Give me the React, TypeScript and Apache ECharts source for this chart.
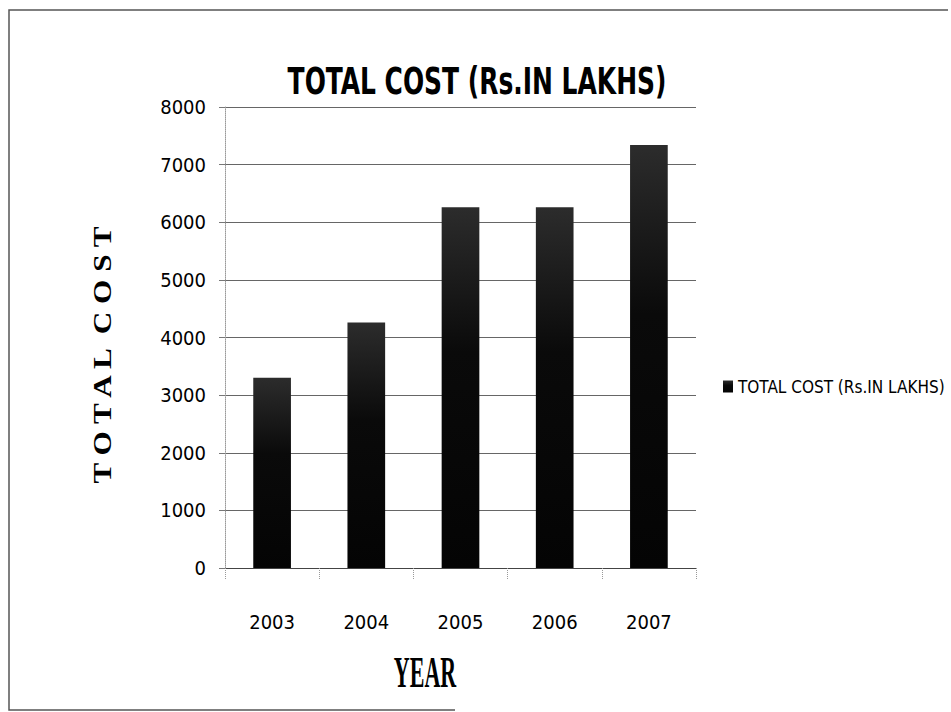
import React, { useEffect, useRef } from "react";
import * as echarts from "echarts";

// Yearly total cost, Rs. in lakhs
const years = ["2003", "2004", "2005", "2006", "2007"];
const totalCost = [3300, 4260, 6260, 6260, 7340];
const seriesName = "TOTAL COST (Rs.IN LAKHS)";
const chartTitle = "TOTAL COST (Rs.IN LAKHS)";
const yAxisTitle = "T O T A L  C O S T";
const xAxisTitle = "YEAR";

const NARROW = '"Liberation Sans Narrow", "DejaVu Sans Condensed", "Arial Narrow", sans-serif';
const SERIF = '"Liberation Serif", "DejaVu Serif", "Times New Roman", serif';

export default function App() {
  const ref = useRef<HTMLDivElement>(null);

  useEffect(() => {
    document.body.style.margin = "0";
    if (!ref.current) return;
    const chart = echarts.init(ref.current, null, { renderer: "svg" });

    chart.setOption({
      animation: false,
      backgroundColor: "#ffffff",
      legend: {
        orient: "vertical",
        left: 723,
        top: 378,
        padding: 0,
        itemWidth: 10,
        itemHeight: 12,
        icon: "rect",
        textStyle: { fontFamily: NARROW, fontSize: 17, color: "#000" },
        data: [seriesName],
      },
      grid: { left: 225, right: 255, top: 107, bottom: 144, containLabel: false },
      xAxis: {
        type: "category",
        data: years,
        axisLine: { show: true, lineStyle: { color: "#444", width: 1 } },
        axisTick: {
          show: true,
          length: 12,
          inside: false,
          alignWithLabel: false,
          lineStyle: { color: "#999", type: "dotted" },
        },
        axisLabel: {
          margin: 44,
          fontFamily: NARROW,
          fontSize: 20,
          color: "#000",
        },
        splitLine: { show: false },
      },
      yAxis: {
        type: "value",
        min: 0,
        max: 8000,
        interval: 1000,
        axisLine: { show: true, lineStyle: { color: "#999", type: "dotted" } },
        axisTick: { show: true, length: 6, lineStyle: { color: "#777" } },
        axisLabel: {
          margin: 19,
          fontFamily: NARROW,
          fontSize: 20,
          color: "#000",
          formatter: (v: number) => String(v),
        },
        splitLine: { show: true, lineStyle: { color: "#666", width: 1 } },
      },
      series: [
        {
          name: seriesName,
          type: "bar",
          data: totalCost,
          barWidth: "40%",
          itemStyle: {
            color: new echarts.graphic.LinearGradient(0, 0, 0, 1, [
              { offset: 0, color: "#2c2c2c" },
              { offset: 0.4, color: "#0a0a0a" },
              { offset: 1, color: "#040404" },
            ]),
          },
        },
      ],
      graphic: [
        {
          type: "polyline",
          shape: { points: [[455, 710], [9, 710], [9, 10], [948, 10]] },
          style: { stroke: "#555", lineWidth: 1.5, fill: null },
          silent: true,
        },
        {
          type: "text",
          x: 477,
          y: 82,
          scaleX: 0.75,
          style: {
            text: chartTitle,
            font: `bold 37px ${NARROW}`,
            fill: "#000",
            align: "center",
            verticalAlign: "middle",
          },
        },
        {
          type: "text",
          x: 103,
          y: 355,
          rotation: Math.PI / 2,
          scaleX: 1.25,
          style: {
            text: yAxisTitle,
            font: `bold 25px ${SERIF}`,
            fill: "#000",
            align: "center",
            verticalAlign: "middle",
          },
        },
        {
          type: "text",
          x: 425,
          y: 672,
          scaleY: 2,
          style: {
            text: xAxisTitle,
            font: `bold 22px ${SERIF}`,
            fill: "#000",
            align: "center",
            verticalAlign: "middle",
          },
        },
      ],
    });

    return () => chart.dispose();
  }, []);

  return <div ref={ref} style={{ width: 951, height: 712 }} />;
}
